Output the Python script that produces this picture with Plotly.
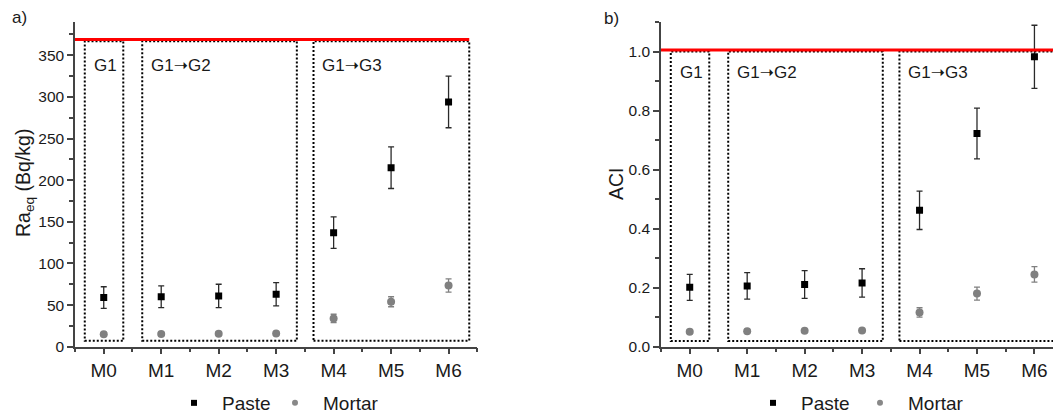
import plotly.graph_objects as go

# ---------------- data ----------------
categories = ["M0", "M1", "M2", "M3", "M4", "M5", "M6"]

ra_paste = [59, 60, 61, 63, 137, 215, 294]
ra_paste_err = [13, 13, 14, 14, 19, 25, 31]
ra_mortar = [15, 15.3, 15.7, 16, 34, 54, 73.5]
ra_mortar_err = [2, 2, 2, 2, 5, 6, 8]

aci_paste = [0.201, 0.206, 0.211, 0.216, 0.462, 0.722, 0.982]
aci_paste_err = [0.044, 0.045, 0.047, 0.048, 0.065, 0.086, 0.107]
aci_mortar = [0.051, 0.052, 0.054, 0.055, 0.116, 0.180, 0.245]
aci_mortar_err = [0.005, 0.005, 0.005, 0.005, 0.016, 0.022, 0.026]

limits = [369, 1.005]                 # red limit lines (Ra_eq 370 Bq/kg, ACI 1)
ARROW = '<span style="font-family:DejaVu Sans">\u279d</span>'
group_labels = ["G1", "G1" + ARROW + "G2", "G1" + ARROW + "G3"]
group_spans = [(-0.33, 0.34), (0.67, 3.36), (3.65, 6.36)]
box_bottoms = [7, 0.019]
box_tops = [367, 1.0]
label_y = [338, 0.93]
y_ranges = [[0, 390], [0, 1.1]]
x_ranges = [[-0.5, 6.5], [-0.5, 6.323]]
y_titles = ["Ra<sub>eq</sub> (Bq/kg)", "ACI"]
panel_letters = ["a)", "b)"]
series_names = ["Paste", "Mortar"]

FONT = "Liberation Sans, Arial, sans-serif"
AX = "#444444"
TXT = "#1a1a1a"
W, H = 1053, 422   # the window shows the top 416 px


def py(px_from_top):
    return 1 - px_from_top / H


xs = list(range(len(categories)))

fig = go.Figure()

panels = [
    (ra_paste, ra_paste_err, ra_mortar, ra_mortar_err, "x", "y", ("legend", "legend2")),
    (aci_paste, aci_paste_err, aci_mortar, aci_mortar_err, "x2", "y2", ("legend3", "legend4")),
]

for (pv, pe, mv, me, xa, ya, lg) in panels:
    fig.add_trace(go.Scatter(
        x=xs, y=pv, mode="markers", xaxis=xa, yaxis=ya, showlegend=False,
        marker=dict(symbol="square", size=7, color="#000000"),
        error_y=dict(type="data", array=pe, color="#2a2a2a", thickness=1.3, width=3),
    ))
    fig.add_trace(go.Scatter(
        x=xs, y=mv, mode="markers", xaxis=xa, yaxis=ya, showlegend=False,
        marker=dict(symbol="circle", size=8, color="#808080"),
        error_y=dict(type="data", array=me, color="#808080", thickness=1.3, width=3),
    ))
    # legend-only entries (smaller legend symbols, as in the reference)
    fig.add_trace(go.Scatter(
        x=[None], y=[None], mode="markers", xaxis=xa, yaxis=ya, name=series_names[0], legend=lg[0],
        marker=dict(symbol="square", size=6, color="#000000"),
    ))
    fig.add_trace(go.Scatter(
        x=[None], y=[None], mode="markers", xaxis=xa, yaxis=ya, name=series_names[1], legend=lg[1],
        marker=dict(symbol="circle", size=6, color="#888888"),
    ))

shapes = []
annotations = []
for i, (xa, ya) in enumerate([("x", "y"), ("x2", "y2")]):
    for (x0, x1) in group_spans:
        shapes.append(dict(type="rect", xref=xa, yref=ya, x0=x0, x1=x1,
                           y0=box_bottoms[i], y1=box_tops[i],
                           line=dict(color="#000000", width=2, dash="2px,2px")))
    for lab, (x0, x1) in zip(group_labels, group_spans):
        annotations.append(dict(xref=xa, yref=ya, x=x0 + 0.12, y=label_y[i], text=lab,
                                showarrow=False, xanchor="left", yanchor="middle",
                                font=dict(family=FONT, size=17, color=TXT)))
    shapes.append(dict(type="line", xref=xa, yref=ya, x0=x_ranges[i][0],
                       x1=group_spans[-1][1] if i == 0 else x_ranges[i][1],
                       y0=limits[i], y1=limits[i], line=dict(color="#ff0000", width=3)))

# axis titles and panel letters
annotations.append(dict(xref="paper", yref="paper", x=24 / W, y=py(183), text=y_titles[0],
                        textangle=-90, showarrow=False, xanchor="center", yanchor="middle",
                        font=dict(family=FONT, size=19.5, color=TXT)))
annotations.append(dict(xref="paper", yref="paper", x=616 / W, y=py(184), text=y_titles[1],
                        textangle=-90, showarrow=False, xanchor="center", yanchor="middle",
                        font=dict(family=FONT, size=19.5, color=TXT)))
annotations.append(dict(xref="paper", yref="paper", x=10 / W, y=py(17), text=panel_letters[0],
                        showarrow=False, xanchor="left", yanchor="middle",
                        font=dict(family=FONT, size=17, color=TXT)))
annotations.append(dict(xref="paper", yref="paper", x=602 / W, y=py(18), text=panel_letters[1],
                        showarrow=False, xanchor="left", yanchor="middle",
                        font=dict(family=FONT, size=17, color=TXT)))

xcommon = dict(tickmode="array", tickvals=xs, ticktext=categories,
               showline=True, linecolor=AX, linewidth=1.5, mirror=False,
               ticks="outside", ticklen=6, tickwidth=1.5, tickcolor=AX,
               showgrid=False, zeroline=False, automargin=False,
               tickfont=dict(family=FONT, size=19, color=TXT),
               minor=dict(tickmode="array", tickvals=[v + 0.5 for v in [-1] + xs],
                          ticks="outside", ticklen=4, tickwidth=1.5, tickcolor=AX, showgrid=False))

ycommon = dict(showline=True, linecolor=AX, linewidth=1.5, ticks="outside", ticklen=6,
               tickwidth=1.5, tickcolor=AX, showgrid=False, zeroline=False, automargin=False,
               tickfont=dict(family=FONT, size=15.5, color=TXT))

legcommon = dict(orientation="h", y=0, xanchor="left", yanchor="bottom",
                 font=dict(family=FONT, size=19, color=TXT), itemwidth=46,
                 bgcolor="rgba(0,0,0,0)")

fig.update_layout(
    width=W, height=H, autosize=False,
    margin=dict(l=0, r=0, t=0, b=0, pad=0),
    paper_bgcolor="white", plot_bgcolor="white",
    font=dict(family=FONT, color=TXT),
    xaxis=dict(domain=[75 / W, 477.3 / W], range=x_ranges[0], anchor="y", **xcommon),
    xaxis2=dict(domain=[661 / W, 1.0], range=x_ranges[1], anchor="y2", **xcommon),
    yaxis=dict(domain=[py(346.7), py(22)], range=y_ranges[0], anchor="x",
               tickmode="linear", tick0=0, dtick=50,
               minor=dict(dtick=25, ticks="outside", ticklen=4, tickwidth=1.5, tickcolor=AX, showgrid=False),
               **ycommon),
    yaxis2=dict(domain=[py(346.7), py(22)], range=y_ranges[1], anchor="x2",
                tickmode="linear", tick0=0, dtick=0.2, tickformat=".1f",
                minor=dict(dtick=0.1, ticks="outside", ticklen=4, tickwidth=1.5, tickcolor=AX, showgrid=False),
                **ycommon),
    legend=dict(x=166 / W, **legcommon),
    legend2=dict(x=267 / W, **legcommon),
    legend3=dict(x=745 / W, **legcommon),
    legend4=dict(x=852 / W, **legcommon),
    shapes=shapes,
    annotations=annotations,
)

fig.write_html("out.html", config={"displayModeBar": False},
               post_script="document.body.style.margin='0px';document.body.style.overflow='hidden';")
